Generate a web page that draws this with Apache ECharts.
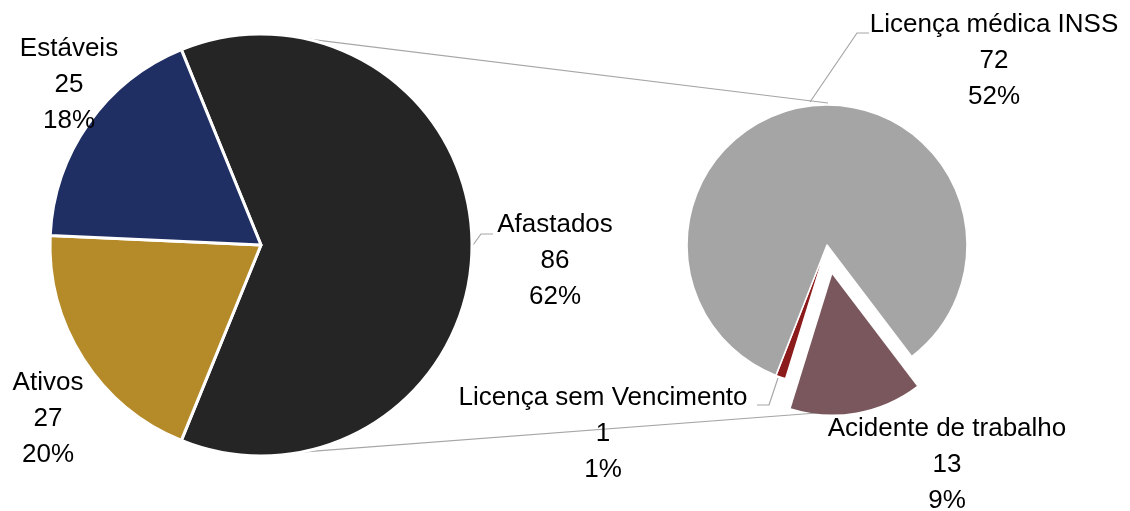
<!DOCTYPE html>
<html>
<head>
<meta charset="utf-8">
<script src="https://cdn.jsdelivr.net/npm/echarts@6/dist/echarts.min.js"></script>
<style>
    html, body {margin: 0; padding: 0; background: #fff;}
    #chart {width: 1130px; height: 511px;}
</style>
</head>
<body>
<div id="chart"></div>
<script>
// dados - pizza principal
const mainNames = ['Afastados', 'Ativos', 'Estáveis'];
const mainValues = [86, 27, 25];
// dados - pizza secundária (detalhe dos afastados)
const subNames = ['Acidente de trabalho', 'Licença sem Vencimento', 'Licença médica INSS'];
const subValues = [13, 1, 72];
// fatia destacada da pizza secundária
const explodedIndex = 0;

const mainColors = ['#252526', '#B58A28', '#1F2F64'];
const subColors = ['#79575C', '#8C1B1B', '#A5A5A5'];
const lineColor = '#A6A6A6';
const hidden = 'rgba(0,0,0,0)';

const total = mainValues.reduce((a, b) => a + b, 0);
const subTotal = subValues.reduce((a, b) => a + b, 0);

// geometria
const mainPie = {cx: 261, cy: 245, r: 211};
const subPie = {cx: 827, cy: 245, r: 140};
const explodeOffset = 30;
const explodeAngle = -80; // graus, direção da fatia destacada
const subStart = 360 + explodeAngle + subValues[explodedIndex] / subTotal * 180;
const explodedCenter = [
    subPie.cx + explodeOffset * Math.cos(explodeAngle * Math.PI / 180),
    subPie.cy - explodeOffset * Math.sin(explodeAngle * Math.PI / 180)
];

const edgePoint = (pie, deg, extra = 0) => {
    const a = deg * Math.PI / 180;
    return [pie.cx + (pie.r + extra) * Math.cos(a), pie.cy - (pie.r + extra) * Math.sin(a)];
};

// posição dos rótulos (centro do bloco de texto) e linhas de chamada
const mainLabelPos = [
    {x: 555, y: 261, line: [edgePoint(mainPie, 0, 1), [481, 234], [493, 234]]},
    {x: 48, y: 419},
    {x: 69, y: 85}
];
const subLabelPos = [
    {x: 947, y: 465},
    {x: 603, y: 434, line: [[778, 378], [769, 405], [757, 405]]},
    {x: 994, y: 61, line: [[810, 102], [857, 33], [869, 33]]}
];

const labelText = p => p.name + '\n' + p.value + '\n' + Math.round(p.value / total * 100) + '%';

const labelStyle = {
    show: true,
    position: 'outside',
    formatter: labelText,
    color: '#000',
    fontSize: 26,
    lineHeight: 36,
    fontFamily: 'Liberation Sans, Arial, sans-serif',
    align: 'center',
    overflow: 'none',
    alignTo: 'none',
    bleedMargin: 0
};

const layoutFrom = list => p => {
    const cfg = list[p.dataIndex];
    return {x: cfg.x, y: cfg.y, align: 'center', verticalAlign: 'middle', labelLinePoints: cfg.line};
};

const topLeft = edgePoint(mainPie, 78);
const bottomLeft = edgePoint(mainPie, -79);
const connectors = [
    [topLeft, [subPie.cx + 1, subPie.cy - subPie.r - 2]],
    [bottomLeft, [subPie.cx + 3, subPie.cy + subPie.r + explodeOffset - 3]]
];

// pizza secundária: uma série para as fatias fixas, outra para a destacada
const subSeries = (center, showExploded) => ({
    type: 'pie',
    z: 3,
    center,
    radius: subPie.r,
    startAngle: subStart,
    clockwise: true,
    avoidLabelOverlap: false,
    label: labelStyle,
    labelLine: {show: true, lineStyle: {color: lineColor, width: 1.2}},
    emphasis: {disabled: true},
    data: subNames.map((name, i) => {
        const visible = (i === explodedIndex) === showExploded;
        return {
            name,
            value: subValues[i],
            itemStyle: visible
                ? {color: subColors[i], borderColor: '#fff', borderWidth: showExploded ? 0 : 1.5}
                : {color: hidden, borderWidth: 0},
            label: {show: visible},
            labelLine: {show: visible && !!subLabelPos[i].line}
        };
    }),
    labelLayout: layoutFrom(subLabelPos)
});

const chart = echarts.init(document.getElementById('chart'));
const option = {
    animation: false,
    backgroundColor: '#fff',
    graphic: connectors.map(c => ({
        type: 'line',
        z: 1,
        shape: {x1: c[0][0], y1: c[0][1], x2: c[1][0], y2: c[1][1]},
        style: {stroke: lineColor, lineWidth: 1.2}
    })),
    series: [
        {
            type: 'pie',
            z: 3,
            center: [mainPie.cx, mainPie.cy],
            radius: mainPie.r,
            startAngle: mainValues[0] / total * 180,
            clockwise: true,
            avoidLabelOverlap: false,
            label: labelStyle,
            labelLine: {show: true, lineStyle: {color: lineColor, width: 1.2}},
            itemStyle: {borderColor: '#fff', borderWidth: 3},
            emphasis: {disabled: true},
            data: mainNames.map((name, i) => ({
                name,
                value: mainValues[i],
                itemStyle: {color: mainColors[i]},
                labelLine: {show: !!mainLabelPos[i].line}
            })),
            labelLayout: layoutFrom(mainLabelPos)
        },
        subSeries([subPie.cx, subPie.cy], false),
        subSeries(explodedCenter, true)
    ]
};
chart.setOption(option);
</script>
</body>
</html>
